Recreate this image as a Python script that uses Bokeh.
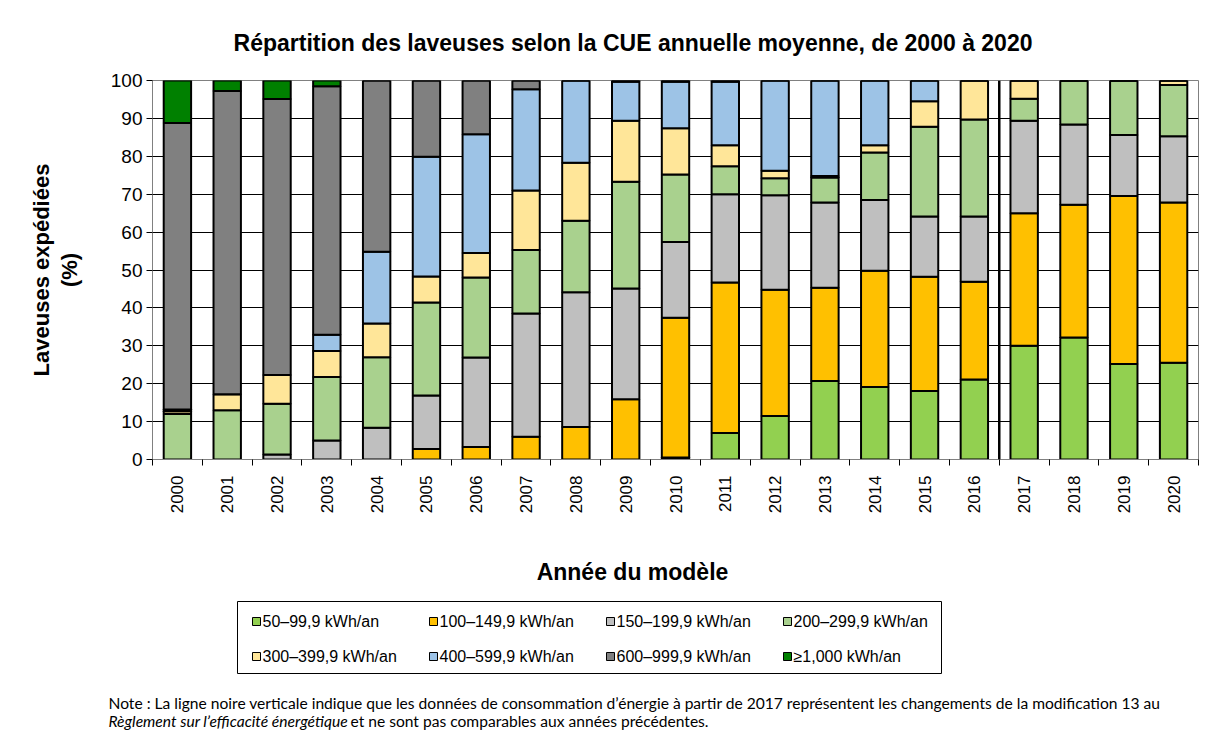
import math
from bokeh.plotting import figure
from bokeh.layouts import column
from bokeh.models import ColumnDataSource, Range1d, FixedTicker, Span, Title
from bokeh.core.properties import value
from bokeh.embed import file_html
from bokeh.resources import INLINE

years = ["2000", "2001", "2002", "2003", "2004", "2005", "2006", "2007", "2008", "2009", "2010",
         "2011", "2012", "2013", "2014", "2015", "2016", "2017", "2018", "2019", "2020"]

s50 = [0, 0, 0, 0, 0, 0, 0, 0, 0, 0, 0.5, 7.0, 11.5, 20.7, 19.1, 18.1, 21.1, 30.0, 32.2, 25.2, 25.5]
s100 = [0, 0, 0, 0, 0, 2.8, 3.3, 6.0, 8.6, 15.9, 36.9, 39.7, 33.3, 24.6, 30.7, 30.1, 25.8, 35.0, 35.0, 44.3, 42.3]
s150 = [0, 0, 1.3, 5.0, 8.4, 14.1, 23.6, 32.5, 35.5, 29.2, 20.0, 23.3, 24.9, 22.5, 18.7, 15.9, 17.2, 24.4, 21.2, 16.1, 17.5]
s200 = [12.0, 13.0, 13.4, 16.8, 18.6, 24.5, 21.1, 16.8, 18.9, 28.2, 17.8, 7.4, 4.5, 6.6, 12.5, 23.7, 25.6, 5.8, 11.6, 14.4, 13.5]
s300 = [0.7, 4.2, 7.6, 6.8, 8.9, 6.9, 6.5, 15.7, 15.3, 16.1, 12.2, 5.5, 2.0, 0.4, 1.9, 6.7, 10.3, 4.8, 0, 0, 1.2]
s400 = [0.5, 0, 0, 4.3, 18.9, 31.6, 31.3, 26.7, 21.7, 10.3, 12.3, 16.8, 23.8, 25.2, 17.1, 5.5, 0, 0, 0, 0, 0]
s600 = [75.6, 80.0, 72.8, 65.6, 45.2, 20.1, 14.2, 2.3, 0, 0.3, 0.3, 0.3, 0, 0, 0, 0, 0, 0, 0, 0, 0]
s1000 = [11.2, 2.8, 4.9, 1.5, 0, 0, 0, 0, 0, 0, 0, 0, 0, 0, 0, 0, 0, 0, 0, 0, 0]

series_labels = ["50–99,9 kWh/an", "100–149,9 kWh/an", "150–199,9 kWh/an", "200–299,9 kWh/an",
                 "300–399,9 kWh/an", "400–599,9 kWh/an", "600–999,9 kWh/an", "≥1,000 kWh/an"]
colors = ["#92D050", "#FFC000", "#BFBFBF", "#A9D18E", "#FFE699", "#9DC3E6", "#808080", "#008000"]
y_ticks = [0, 10, 20, 30, 40, 50, 60, 70, 80, 90, 100]
break_after = "2016"

title_text = "Répartition des laveuses selon la CUE annuelle moyenne, de 2000 à 2020"
xlabel_text = "Année du modèle"
ylabel_lines = ["Laveuses expédiées", "(%)"]
note_line1 = ("Note : La ligne noire verticale indique que les données de consommation d’énergie "
              "à partir de 2017 représentent les changements de la modification 13 au")
note_line2_italic = "Règlement sur l’efficacité énergétique"
note_line2_rest = "et ne sont pas comparables aux années précédentes."

W = 1200
FONT = "Liberation Sans"
NOTE_FONT = "Lato"
NOTE_SIZE = "15.6px"
FL, FR = 152, 1198   # frame left/right in page pixels

# ---------------- top: title ----------------
TOP_H = 70
top = figure(width=W, height=TOP_H, x_range=Range1d(FL, FR), y_range=Range1d(0, TOP_H),
             output_backend="svg", toolbar_location=None, x_axis_location=None, y_axis_location=None,
             min_border_left=FL, min_border_right=W - FR, min_border_top=0, min_border_bottom=0)
top.outline_line_color = None
top.grid.visible = False
top.text(x=[632.5], y=[TOP_H - 42], text=[title_text], text_align="center", text_baseline="middle",
         text_font=value(FONT), text_font_style="bold", text_font_size="23px", text_color="black")

# ---------------- main chart ----------------
MAIN_H = 450
keys = ["s50", "s100", "s150", "s200", "s300", "s400", "s600", "s1000"]
centers = [i + 0.5 for i in range(len(years))]
src = ColumnDataSource(dict(x=centers, s50=s50, s100=s100, s150=s150, s200=s200,
                            s300=s300, s400=s400, s600=s600, s1000=s1000))

p = figure(width=W, height=MAIN_H, x_range=Range1d(0, len(years)), y_range=Range1d(0, 100),
           output_backend="svg", toolbar_location=None,
           min_border_left=FL, min_border_right=W - FR, min_border_top=10, min_border_bottom=61)
p.background_fill_color = "white"
p.border_fill_color = "white"
p.outline_line_color = "#808080"
p.outline_line_width = 1

p.vbar_stack(keys, x="x", width=0.55, source=src, fill_color=colors,
             line_color="black", line_width=2)

p.xaxis.ticker = FixedTicker(ticks=centers, minor_ticks=list(range(len(years) + 1)))
p.xaxis.major_label_overrides = {c: y for c, y in zip(centers, years)}
p.xaxis.major_label_orientation = math.pi / 2
p.xaxis.major_tick_out = 0
p.xaxis.major_tick_in = 0
p.xaxis.minor_tick_out = 6
p.xaxis.minor_tick_in = 0
p.xaxis.minor_tick_line_color = "black"
p.xaxis.major_label_standoff = 10
p.xaxis.major_label_text_font = FONT
p.xaxis.major_label_text_font_size = "17px"
p.xaxis.major_label_text_color = "black"
p.xaxis.axis_line_color = "#808080"

p.yaxis.ticker = FixedTicker(ticks=y_ticks)
p.yaxis.major_tick_out = 6
p.yaxis.major_tick_in = 0
p.yaxis.minor_tick_line_color = None
p.yaxis.major_tick_line_color = "black"
p.yaxis.major_label_standoff = 4
p.yaxis.major_label_text_font = FONT
p.yaxis.major_label_text_font_size = "19px"
p.yaxis.major_label_text_color = "black"
p.yaxis.axis_line_color = "#808080"
p.yaxis.axis_label = ylabel_lines[1]
p.yaxis.axis_label_text_font = FONT
p.yaxis.axis_label_text_font_style = "bold"
p.yaxis.axis_label_text_font_size = "22px"
p.yaxis.axis_label_text_color = "black"
p.yaxis.axis_label_standoff = 26

p.add_layout(Title(text=ylabel_lines[0], align="center", text_font=FONT, text_font_style="bold",
                   text_font_size="22px", text_color="black", standoff=0), "left")

p.xgrid.visible = False
p.ygrid.grid_line_color = "black"
p.ygrid.grid_line_width = 1

p.add_layout(Span(location=years.index(break_after) + 1, dimension="height",
                  line_color="black", line_width=2.5))

# ---------------- bottom: x label, legend, note ----------------
BOT_H = 214
PAGE_BOTTOM = 520 + BOT_H
bot = figure(width=W, height=BOT_H, x_range=Range1d(0, W), y_range=Range1d(0, BOT_H),
             output_backend="svg", toolbar_location=None, x_axis_location=None, y_axis_location=None,
             min_border=0, min_border_left=0, min_border_right=0, min_border_top=0, min_border_bottom=0)
bot.outline_line_color = None
bot.grid.visible = False

def py(page_y):
    return PAGE_BOTTOM - page_y

bot.text(x=[632], y=[py(571)], text=[xlabel_text], text_align="center", text_baseline="middle",
         text_font=value(FONT), text_font_style="bold", text_font_size="23px", text_color="black")

# legend (box, swatches, labels)
bot.quad(left=[237], right=[941], top=[py(601)], bottom=[py(673)], fill_color="white",
         line_color="black", line_width=1)
col_left = [252 + 177 * (i % 4) for i in range(len(series_labels))]
row_y = [py(621) if i < 4 else py(656) for i in range(len(series_labels))]
bot.rect(x=[c + 4 for c in col_left], y=row_y, width=8, height=8, fill_color=colors,
         line_color="black", line_width=1)
bot.text(x=[c + 10 for c in col_left], y=row_y, text=series_labels, text_align="left",
         text_baseline="middle", text_font=value(FONT), text_font_size="16px", text_color="black")

# note
bot.text(x=[108], y=[py(702)], text=[note_line1], text_align="left", text_baseline="middle",
         text_font=value(NOTE_FONT), text_font_size=NOTE_SIZE, text_color="black")
bot.text(x=[108], y=[py(720)], text=[note_line2_italic], text_align="left", text_baseline="middle",
         text_font=value(NOTE_FONT), text_font_style="italic", text_font_size=NOTE_SIZE, text_color="black")
bot.text(x=[350], y=[py(720)], text=[note_line2_rest], text_align="left", text_baseline="middle",
         text_font=value(NOTE_FONT), text_font_size=NOTE_SIZE, text_color="black")

open("out.html", "w").write(file_html([column(top, p, spacing=0), bot], INLINE))
